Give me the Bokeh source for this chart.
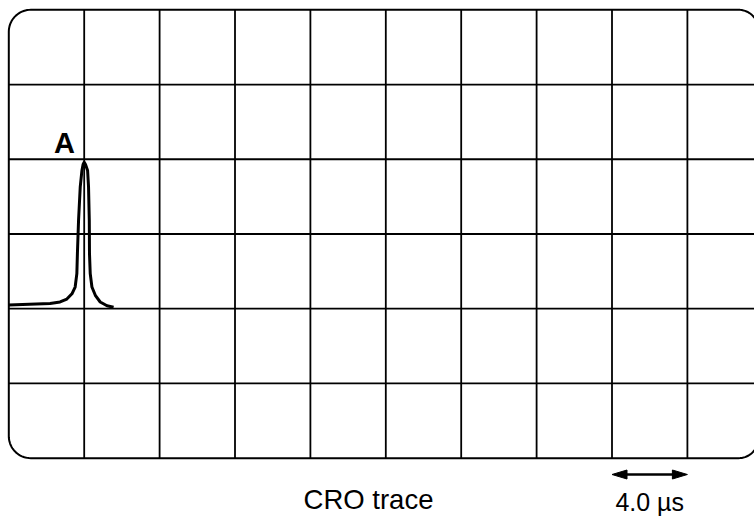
import numpy as np
from bokeh.plotting import figure
from bokeh.models import Range1d
from bokeh.core.properties import value
from bokeh.embed import file_html
from bokeh.resources import INLINE

# ---- data (time in µs, deflection in divisions) ----
trace_t = [0.0, 2.19, 2.72, 3.08, 3.35, 3.52, 3.61, 3.64, 3.70, 3.79, 3.88,
           3.94, 4.00, 4.07,
           4.18, 4.23, 4.27, 4.28, 4.32, 4.41, 4.59, 4.85, 5.21, 5.56]
trace_v = [2.05, 2.07, 2.09, 2.13, 2.20, 2.29, 2.47, 2.74, 3.18, 3.63, 3.85,
           3.93, 3.96, 3.93,
           3.85, 3.63, 3.18, 2.74, 2.47, 2.29, 2.18, 2.09, 2.04, 2.02]

us_per_div = 4.0
n_xdiv = 10
n_ydiv = 6
scale_bar_divs = [8, 9]
peak_label = "A"
caption = "CRO trace"
scale_label = "4.0 µs"

# ---- geometry (Bokeh page has margin 0, so the figure fills the window) ----
W, H = 754, 518
px_per_us = 75.4 / us_per_div
px_per_div_y = 74.73
x0_px = 8.3
top_px = 9.3
xs = -x0_px / px_per_us
ytop = n_ydiv + top_px / px_per_div_y


def px_to_x(px):
    return (px - x0_px) / px_per_us


def px_to_y(py):
    return ytop - py / px_per_div_y


p = figure(width=W, height=H, output_backend="svg", toolbar_location=None,
           x_range=Range1d(xs, xs + W / px_per_us),
           y_range=Range1d(ytop - H / px_per_div_y, ytop),
           min_border=0, x_axis_location=None, y_axis_location=None,
           outline_line_color=None, background_fill_color="white",
           border_fill_color="white")
p.grid.visible = False

right_t = px_to_x(758)  # right edge runs just past the window

# grid lines
vx = np.arange(1, n_xdiv) * us_per_div
p.segment(x0=vx, y0=np.zeros_like(vx), x1=vx, y1=np.full_like(vx, n_ydiv),
          line_color="black", line_width=1.8)
hy = np.arange(1, n_ydiv).astype(float)
p.segment(x0=np.zeros_like(hy), y0=hy, x1=np.full_like(hy, right_t), y1=hy,
          line_color="black", line_width=1.8)


# rounded border
def corner(cx, cy, rpx, a0, a1):
    a = np.linspace(a0, a1, 20)
    return (cx + rpx / px_per_us * np.cos(a)), (cy + rpx / px_per_div_y * np.sin(a))


rl, rr = 22, 20
bx, by = [], []
for cx, cy, r, a0, a1 in [
    (rl / px_per_us, n_ydiv - rl / px_per_div_y, rl, np.pi, np.pi / 2),
    (right_t - rr / px_per_us, n_ydiv - rr / px_per_div_y, rr, np.pi / 2, 0),
    (right_t - rr / px_per_us, rr / px_per_div_y, rr, 0, -np.pi / 2),
    (rl / px_per_us, rl / px_per_div_y, rl, -np.pi / 2, -np.pi),
]:
    x, y = corner(cx, cy, r, a0, a1)
    bx.extend(x)
    by.extend(y)
bx.append(bx[0])
by.append(by[0])
p.line(bx, by, line_color="black", line_width=2)

# trace
p.line(trace_t, trace_v, line_color="black", line_width=3, line_join="round")

# scale bar arrow
ay = px_to_y(474)
sx0, sx1 = scale_bar_divs[0] * us_per_div, scale_bar_divs[1] * us_per_div
hl = 15 / px_per_us
hw = 4.5 / px_per_div_y
p.segment(x0=[sx0 + hl * 0.8], y0=[ay], x1=[sx1 - hl * 0.8], y1=[ay],
          line_color="black", line_width=2.5)
p.patches(xs=[[sx0, sx0 + hl, sx0 + hl], [sx1, sx1 - hl, sx1 - hl]],
          ys=[[ay, ay + hw, ay - hw], [ay, ay + hw, ay - hw]],
          fill_color="black", line_color="black", line_width=1)

# labels (baseline positions compensated for the renderer's offset)
p.text(x=[px_to_x(64)], y=[px_to_y(142)], text=[peak_label],
       text_align="center", text_baseline="alphabetic",
       text_font=value("Liberation Sans"), text_font_style="bold",
       text_font_size="29px", text_color="black")
p.text(x=[px_to_x(368)], y=[px_to_y(499)], text=[caption],
       text_align="center", text_baseline="alphabetic",
       text_font=value("Liberation Sans"), text_font_size="27.5px",
       text_color="black")
p.text(x=[(sx0 + sx1) / 2], y=[px_to_y(501)], text=[scale_label],
       text_align="center", text_baseline="alphabetic",
       text_font=value("Liberation Sans"), text_font_size="25px",
       text_color="black")

open("out.html", "w").write(file_html(p, INLINE))
